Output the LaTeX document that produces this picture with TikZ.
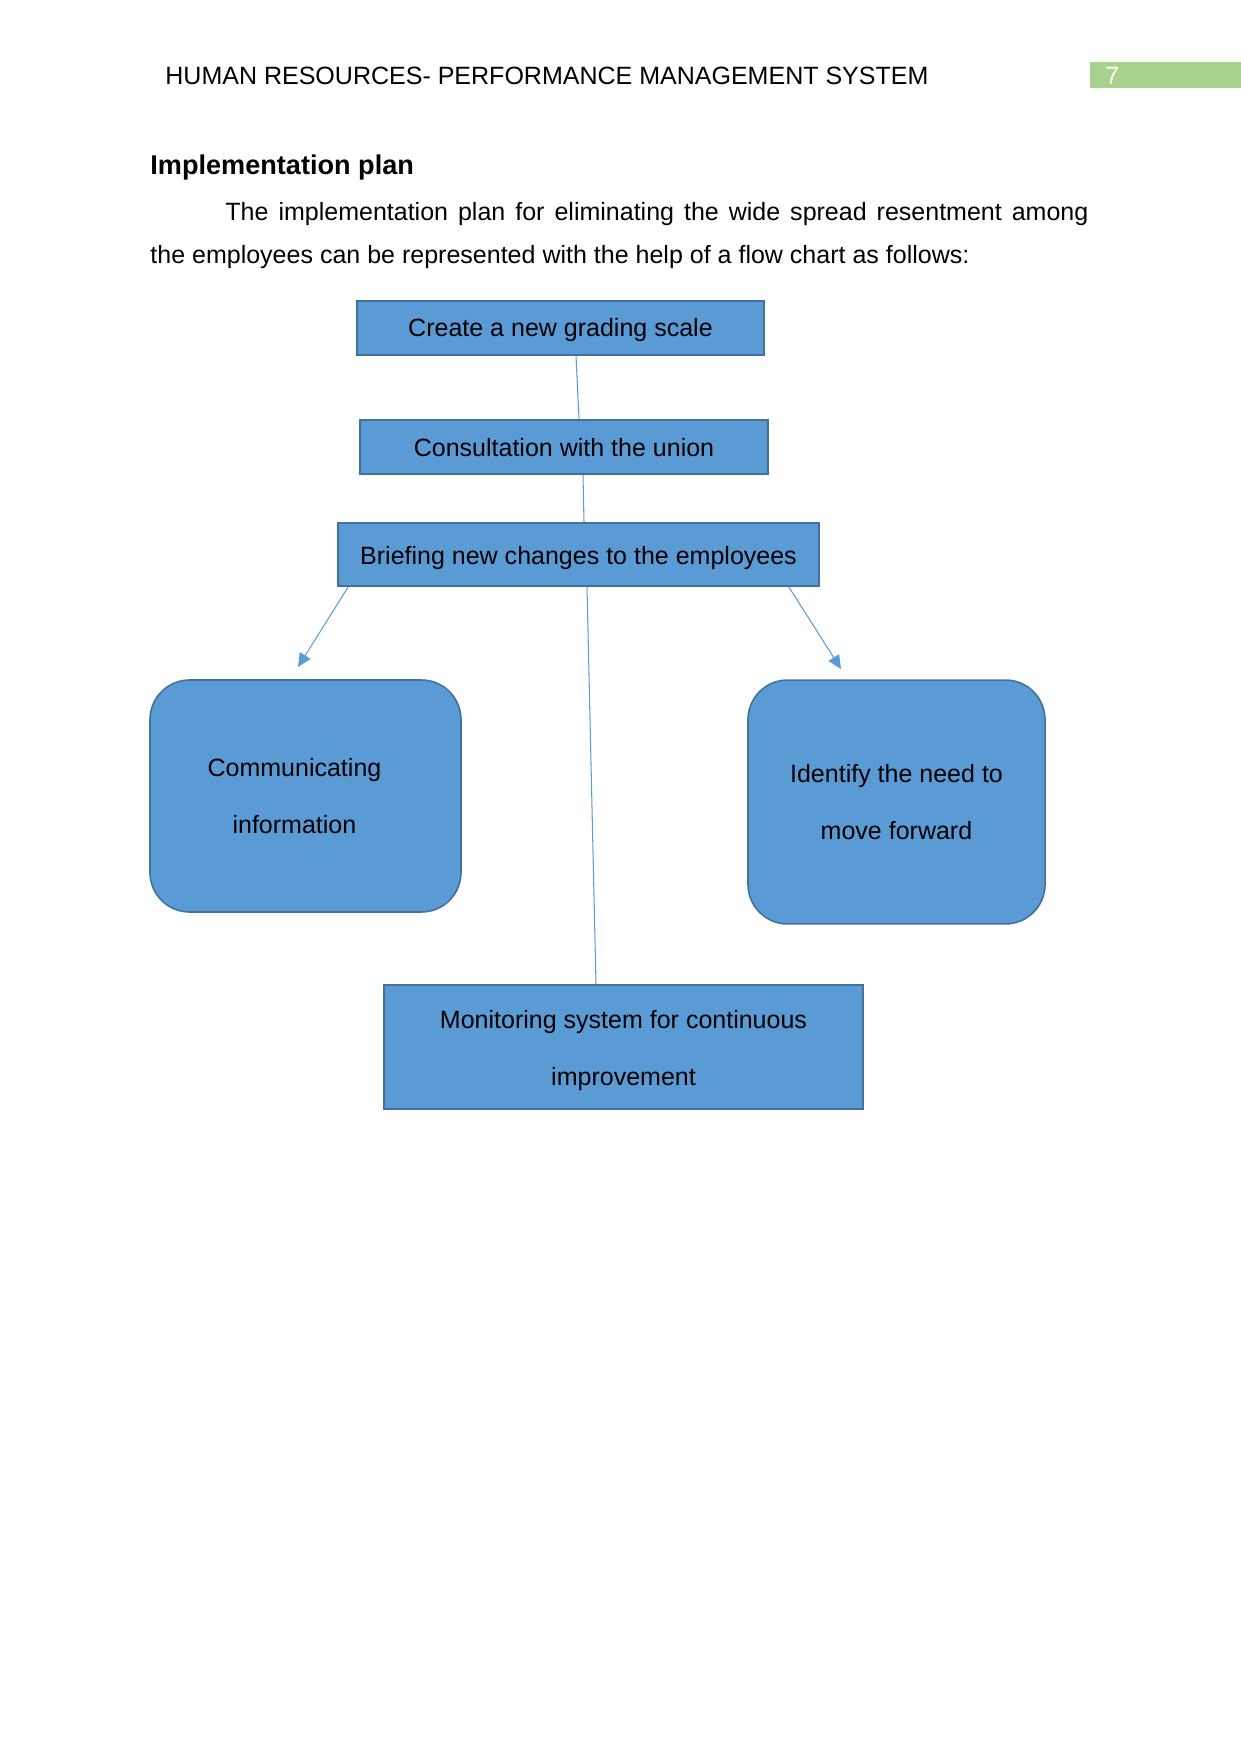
\documentclass[tikz,border=0pt]{standalone}
\usepackage{fontspec}
\setmainfont{Liberation Sans}
\usepackage{xcolor}
\usetikzlibrary{arrows.meta, calc}

\definecolor{boxblue}{HTML}{5B9BD5}
\definecolor{boxedge}{HTML}{41719C}
\definecolor{pagegreen}{HTML}{A9D18E}

% lower a line of text inside a box without changing the box size
\newcommand{\dropline}[2]{\raisebox{-#1}[\height][\depth]{#2}}

\tikzset{
  flowbox/.style={draw=boxedge, fill=boxblue, line width=0.75pt, inner sep=0pt,
    align=center, font=\fontsize{12}{27.6}\selectfont},
  roundbox/.style={flowbox, rounded corners=19pt},
  link/.style={draw=boxblue, line width=0.5pt},
  pointer/.style={link, -{Triangle[length=6.5pt,width=6pt]}},
  bodytext/.style={anchor=base west, inner sep=0pt, font=\fontsize{12}{14}\selectfont}
}

\begin{document}
\begin{tikzpicture}[x=0.4797pt, y=-0.4797pt]
                % page frame
                \useasboundingbox (0,0) rectangle (1241,1754);

                % Header
                \node[bodytext] (header) at (165,85) {HUMAN RESOURCES- PERFORMANCE MANAGEMENT SYSTEM};
                \node[fill=pagegreen, text=white, anchor=north west, inner xsep=7.2pt, inner ysep=0pt,
                  minimum height=12.5pt, text width=57.6pt, align=left,
                  font=\fontsize{12}{14}\selectfont] (pagenum) at (1090,62) {7};

                % Heading and paragraph
                \node[bodytext, font=\fontsize{13}{15}\selectfont\bfseries] (heading) at (150,174) {Implementation plan};
                \node[bodytext] (lineone) at (225,220) {\makebox[414pt][s]{The implementation plan for eliminating the wide spread resentment among}};
                \node[bodytext] (linetwo) at (150,263) {the employees can be represented with the help of a flow chart as follows:};

                % Draw boxes
                \node[flowbox, minimum width=195.2pt, minimum height=25.9pt] (grading) at (560.5,328) {\dropline{1.2pt}{Create a new grading scale}};
                \node[flowbox, minimum width=195.7pt, minimum height=25.9pt] (union) at (564,447) {\dropline{0.5pt}{Consultation with the union}};
                \node[flowbox, minimum width=230.7pt, minimum height=30.2pt] (briefing) at (578.5,554.5) {\dropline{1.5pt}{Briefing new changes to the employees}};
                \node[roundbox, minimum width=149.2pt, minimum height=111.3pt] (communicating) at (305.5,796) {Communicating\hspace*{10.6pt}\\information\hspace*{10.6pt}};
                \node[roundbox, minimum width=142.5pt, minimum height=117pt] (identify) at (896.5,802) {Identify the need to\\move forward};
                \node[flowbox, minimum width=229.8pt, minimum height=59.5pt] (monitoring) at (623.5,1047) {\dropline{1.6pt}{Monitoring system for continuous}\\\dropline{1.6pt}{improvement}};

                % Draw connectors
                \coordinate (commtip) at (298,667);
                \coordinate (identtip) at (841,669);
                \draw[link] ($(grading.south)+(15.5,0)$) -- ($(union.north)+(15,0)$);
                \draw[link] ($(union.south)+(19,0)$) -- ($(briefing.north)+(5.5,0)$);
                \draw[link] ($(briefing.south)+(8.5,0)$) -- ($(monitoring.north)+(-27.5,0)$);
                \draw[pointer] ($(briefing.south west)+(11,0)$) -- (commtip);
                \draw[pointer] ($(briefing.south east)+(-31,0)$) -- (identtip);
            \end{tikzpicture}
\end{document}
